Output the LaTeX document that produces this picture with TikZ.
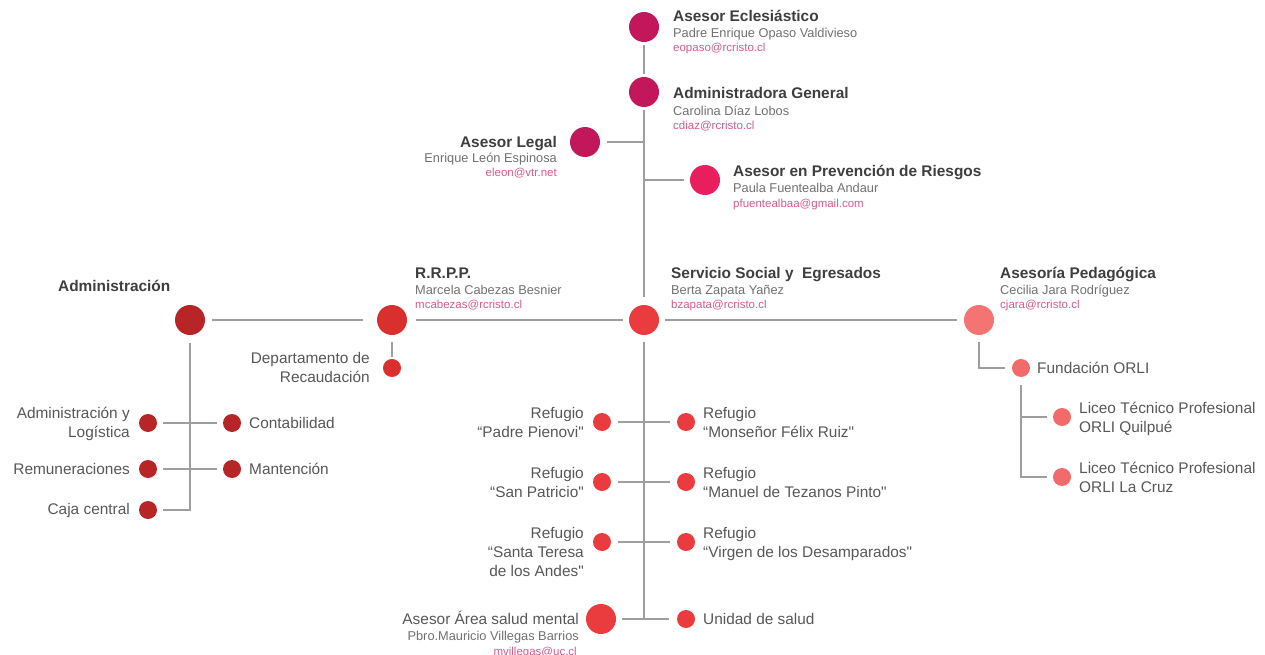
\documentclass[tikz,border=0pt]{standalone}
\usepackage{fontspec}
\setmainfont{Liberation Sans}[Ligatures=TeXOff]
\definecolor{magA}{HTML}{C2185B}
\definecolor{magB}{HTML}{E81E5E}
\definecolor{redA}{HTML}{EA3B3E}
\definecolor{redB}{HTML}{D9302F}
\definecolor{redC}{HTML}{B82527}
\definecolor{salm}{HTML}{F47474}
\definecolor{salm2}{HTML}{F26A6A}
\definecolor{linec}{HTML}{9E9E9E}
\definecolor{ttl}{HTML}{3E3E3E}
\definecolor{subc}{HTML}{707070}
\definecolor{mailc}{HTML}{D45A8E}
\definecolor{bodyc}{HTML}{575757}
\tikzset{
  big/.style={circle,fill=#1,minimum size=30pt,inner sep=0pt,outer sep=0pt},
  sml/.style={circle,fill=#1,minimum size=18pt,inner sep=0pt,outer sep=0pt},
  conn/.style={draw=linec,line width=1.8pt},
  ttlL/.style={anchor=base west,inner sep=0pt,text=ttl,font=\fontsize{15.4}{18}\selectfont\bfseries},
  subL/.style={anchor=base west,inner sep=0pt,text=subc,font=\fontsize{12.8}{15}\selectfont},
  mailL/.style={anchor=base west,inner sep=0pt,text=mailc,font=\fontsize{11.5}{13}\selectfont},
  ttlR/.style={ttlL,anchor=base east},
  subR/.style={subL,anchor=base east},
  mailR/.style={mailL,anchor=base east},
  bodyL/.style={anchor=base west,inner sep=0pt,text=bodyc,font=\fontsize{15.4}{18}\selectfont},
  bodyR/.style={bodyL,anchor=base east},
}
\begin{document}
\begin{tikzpicture}[x=1pt,y=-1pt]
\useasboundingbox (0,0) rectangle (1265,655);
% circles
\node[big=magA] (ecl) at (644,27) {};
\node[big=magA] (adg) at (644,92) {};
\node[big=magA] (leg) at (585,142) {};
\node[big=magB] (prev) at (705,180) {};
\node[big=redA] (ss) at (644,320) {};
\node[big=redB] (rrpp) at (392,320) {};
\node[big=redC] (adm) at (190,320) {};
\node[big=salm] (ped) at (979,320) {};
\node[sml=redB] (rec) at (392,368) {};
\node[sml=redC] (al) at (148,423) {};
\node[sml=redC] (cont) at (232,423) {};
\node[sml=redC] (rem) at (148,469) {};
\node[sml=redC] (mant) at (232,469) {};
\node[sml=redC] (caja) at (148,510) {};
\node[sml=redA] (r1l) at (602,422) {};
\node[sml=redA] (r1r) at (686,422) {};
\node[sml=redA] (r2l) at (602,482) {};
\node[sml=redA] (r2r) at (686,482) {};
\node[sml=redA] (r3l) at (602,542) {};
\node[sml=redA] (r3r) at (686,542) {};
\node[big=redA] (sm) at (601,619) {};
\node[sml=redA] (us) at (686,619) {};
\node[sml=salm2] (fo) at (1021,368) {};
\node[sml=salm2] (l1) at (1062,417) {};
\node[sml=salm2] (l2) at (1062,477) {};
% helper coordinates
\coordinate (ssv) at (644,619);
\coordinate (admc) at (190,510);
\coordinate (pedc) at (979,368);
\coordinate (foc) at (1021,477);
\coordinate (foa) at (1021,417);
\coordinate (legj) at (644,142);
\coordinate (prevj) at (644,180);
% connectors
\draw[conn] ([yshift=-3]ecl.south) -- ([yshift=3]adg.north);
\draw[conn] ([yshift=-3]adg.south) -- ([yshift=8]ss.north);
\draw[conn] ([xshift=7]leg.east) -- (legj);
\draw[conn] (prevj) -- ([xshift=-6]prev.west);
\draw[conn] ([xshift=7]adm.east) -- ([xshift=-14]rrpp.west);
\draw[conn] ([xshift=9]rrpp.east) -- ([xshift=-6]ss.west);
\draw[conn] ([xshift=6]ss.east) -- ([xshift=-7]ped.west);
\draw[conn] ([yshift=-7]rrpp.south) -- ([yshift=2]rec.north);
\draw[conn] ([yshift=-8]adm.south) -- (admc) -- ([xshift=6]caja.east);
\draw[conn] ([xshift=6]al.east) -- ([xshift=-6]cont.west);
\draw[conn] ([xshift=6]rem.east) -- ([xshift=-6]mant.west);
\draw[conn] ([yshift=-7]ss.south) -- (ssv);
\draw[conn] ([xshift=7]r1l.east) -- ([xshift=-7]r1r.west);
\draw[conn] ([xshift=7]r2l.east) -- ([xshift=-7]r2r.west);
\draw[conn] ([xshift=7]r3l.east) -- ([xshift=-7]r3r.west);
\draw[conn] ([xshift=6]sm.east) -- ([xshift=-8]us.west);
\draw[conn] ([yshift=-7]ped.south) -- (pedc) -- ([xshift=-7]fo.west);
\draw[conn] ([yshift=-8]fo.south) -- (foc) -- ([xshift=-6]l2.west);
\draw[conn] (foa) -- ([xshift=-6]l1.west);
% text: top
\node[ttlL] (t1) at (673,22) {Asesor Eclesiástico};
\node[subL] (s1) at (673,38) {Padre Enrique Opaso Valdivieso};
\node[mailL] (m1) at (673,52) {eopaso@rcristo.cl};
\node[ttlL] (t2) at (673,99) {Administradora General};
\node[subL] (s2) at (673,116) {Carolina Díaz Lobos};
\node[mailL] (m2) at (673,130) {cdiaz@rcristo.cl};
\node[ttlR] (t3) at (557,148) {Asesor Legal};
\node[subR] (s3) at (557,163) {Enrique León Espinosa};
\node[mailR] (m3) at (557,177) {eleon@vtr.net};
\node[ttlL] (t4) at (733,177) {Asesor en Prevención de Riesgos};
\node[subL] (s4) at (733,193) {Paula Fuentealba Andaur};
\node[mailL] (m4) at (733,207) {pfuentealbaa@gmail.com};
\node[ttlL] (t5) at (415,278) {R.R.P.P.};
\node[subL] (s5) at (415,294) {Marcela Cabezas Besnier};
\node[mailL] (m5) at (415,308) {mcabezas@rcristo.cl};
\node[ttlL] (t6) at (671,278) {Servicio Social y\ \ Egresados};
\node[subL] (s6) at (671,294) {Berta Zapata Yañez};
\node[mailL] (m6) at (671,308) {bzapata@rcristo.cl};
\node[ttlL] (t7) at (1000,278) {Asesoría Pedagógica};
\node[subL] (s7) at (1000,294) {Cecilia Jara Rodríguez};
\node[mailL] (m7) at (1000,308) {cjara@rcristo.cl};
\node[ttlL] (t8) at (58,291) {Administración};
% left branch
\node[bodyR] (b1) at (370,363) {Departamento de};
\node[bodyR] (b2) at (370,382) {Recaudación};
\node[bodyR] (b3) at (130,418) {Administración y};
\node[bodyR] (b4) at (130,437) {Logística};
\node[bodyL] (b5) at (249,428) {Contabilidad};
\node[bodyR] (b6) at (130,474) {Remuneraciones};
\node[bodyL] (b7) at (249,474) {Mantención};
\node[bodyR] (b8) at (130,514) {Caja central};
% refugios
\node[bodyR] (c1) at (584,418) {Refugio};
\node[bodyR] (c2) at (584,437) {“Padre Pienovi"};
\node[bodyL] (c3) at (703,418) {Refugio};
\node[bodyL] (c4) at (703,437) {“Monseñor Félix Ruiz"};
\node[bodyR] (c5) at (584,478) {Refugio};
\node[bodyR] (c6) at (584,497) {“San Patricio"};
\node[bodyL] (c7) at (703,478) {Refugio};
\node[bodyL] (c8) at (703,497) {“Manuel de Tezanos Pinto"};
\node[bodyR] (c9) at (584,538) {Refugio};
\node[bodyR] (c10) at (584,557) {“Santa Teresa};
\node[bodyR] (c11) at (584,576) {de los Andes"};
\node[bodyL] (c12) at (703,538) {Refugio};
\node[bodyL] (c13) at (703,557) {“Virgen de los Desamparados"};
\node[bodyR] (c14) at (579,624) {Asesor Área salud mental};
\node[subR] (c15) at (579,640) {Pbro.Mauricio Villegas Barrios};
\node[mailR] (c16) at (577,655) {mvillegas@uc.cl};
\node[bodyL] (c17) at (703,624) {Unidad de salud};
% right branch
\node[bodyL] (d1) at (1037,373) {Fundación ORLI};
\node[bodyL] (d2) at (1079,413) {Liceo Técnico Profesional};
\node[bodyL] (d3) at (1079,432) {ORLI Quilpué};
\node[bodyL] (d4) at (1079,473) {Liceo Técnico Profesional};
\node[bodyL] (d5) at (1079,492) {ORLI La Cruz};
\end{tikzpicture}
\end{document}
